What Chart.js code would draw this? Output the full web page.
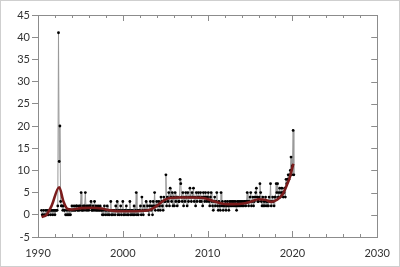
<!DOCTYPE html>
<html><head><meta charset="utf-8">
<script src="https://cdn.jsdelivr.net/npm/chart.js@4"></script>
<style>html,body{margin:0;padding:0;background:#fff}#wrap{width:400px;height:267px}</style>
</head><body><div id="wrap"><canvas id="c" width="400" height="267"></canvas></div>
<script>
// Monthly counts, first month = June 1990
const startYear = 1990;
const startMonth = 6;
const monthlyCounts = [
  /*1990*/ 1,0,0,1,0,0,1,
  /*1991*/ 0,1,0,0,1,1,0,1,1,0,1,1,
  /*1992*/ 0,1,1,1,2,41,12,20,3,2,2,1,
  /*1993*/ 2,1,1,0,0,1,0,0,1,0,0,1,
  /*1994*/ 2,1,1,2,1,1,2,2,1,1,2,1,
  /*1995*/ 2,5,1,1,2,1,2,5,1,2,1,2,
  /*1996*/ 1,2,2,3,1,1,2,1,3,1,2,1,
  /*1997*/ 1,2,1,1,2,1,1,0,1,0,2,1,
  /*1998*/ 0,1,2,0,1,0,1,3,0,1,0,1,
  /*1999*/ 1,0,2,1,3,0,1,0,1,2,0,1,
  /*2000*/ 3,0,1,0,1,2,0,1,0,1,3,0,
  /*2001*/ 1,0,1,0,2,0,1,5,0,1,0,1,
  /*2002*/ 1,2,0,4,1,0,2,1,1,3,1,2,
  /*2003*/ 1,0,2,3,1,2,0,3,2,5,1,2,
  /*2004*/ 3,2,1,3,2,1,4,3,2,1,4,3,
  /*2005*/ 3,9,2,4,3,5,2,6,4,3,5,2,
  /*2006*/ 4,2,5,3,4,2,4,3,3,8,7,4,
  /*2007*/ 3,5,2,4,3,5,4,2,5,3,4,6,
  /*2008*/ 4,3,5,4,6,3,4,2,5,3,4,5,
  /*2009*/ 4,3,5,3,4,2,5,4,3,5,4,3,
  /*2010*/ 4,5,3,2,4,5,3,2,1,3,4,2,
  /*2011*/ 3,5,2,1,3,2,1,5,2,3,1,2,
  /*2012*/ 2,3,1,2,3,2,1,3,2,3,2,3,
  /*2013*/ 2,3,2,3,2,1,3,2,3,2,3,2,
  /*2014*/ 3,2,3,2,3,3,2,3,5,3,2,3,
  /*2015*/ 4,5,2,3,4,2,3,4,5,6,4,3,
  /*2016*/ 3,4,7,5,3,2,4,2,3,2,4,3,
  /*2017*/ 2,3,2,4,3,7,2,3,4,3,2,4,
  /*2018*/ 4,7,5,7,4,5,6,4,5,6,5,4,
  /*2019*/ 5,6,4,8,7,8,9,8,9,10,13,9,
  /*2020*/ 11,19,9
];
// Smoothed trend
const trendYears  = [1990.42,1991.0,1991.6,1992.5,1993.0,1993.5,1994.0,1995.0,1996.5,1997.5,1998.5,2000.0,2001.5,2002.5,2003.3,2004.0,2004.8,2005.5,2006.5,2008.0,2009.5,2010.5,2011.5,2012.5,2014.0,2015.0,2016.0,2016.8,2017.5,2018.2,2018.8,2019.3,2019.7,2020.1];
const trendValues = [-0.5,0.0,2.0,6.2,3.0,1.3,1.2,1.5,1.6,1.4,1.0,0.8,0.8,0.9,1.2,2.0,3.2,3.8,3.9,3.9,3.8,3.2,2.6,2.4,2.5,2.9,3.5,3.4,2.9,3.4,4.5,6.5,8.5,11.5];
const xTicks = [1990,2000,2010,2020,2030];
const yTicks = [-5,0,5,10,15,20,25,30,35,40,45];

const countPoints = monthlyCounts.map((v,i)=>({x: startYear + (startMonth-1+i)/12, y: v}));
const trendPoints = trendYears.map((x,i)=>({x, y: trendValues[i]}));

const frame = {
  id:'frame',
  beforeDraw(chart){
    const c=chart.ctx; c.save(); c.fillStyle='#fff'; c.fillRect(0,0,chart.width,chart.height);
    c.strokeStyle='#cfcfcf'; c.lineWidth=1; c.strokeRect(0.5,0.5,chart.width-1,chart.height-1); c.restore();
  },
  afterDraw(chart){
    const c=chart.ctx, a=chart.chartArea, xs=chart.scales.x, ys=chart.scales.y;
    c.save(); c.strokeStyle='#8c8c8c'; c.lineWidth=1;
    c.strokeRect(Math.round(a.left)+0.5, Math.round(a.top)+0.5, Math.round(a.right-a.left), Math.round(a.bottom-a.top));
    c.beginPath();
    for(let yr=xTicks[0]; yr<=xTicks[xTicks.length-1]; yr+=2){
      const px=Math.round(xs.getPixelForValue(yr))+0.5;
      const major = xTicks.includes(yr);
      const len = major?6:3;
      c.moveTo(px,a.top); c.lineTo(px,a.top+len);
      c.moveTo(px,a.bottom); c.lineTo(px,a.bottom-len);
    }
    yTicks.forEach(v=>{
      const py=Math.round(ys.getPixelForValue(v))+0.5;
      c.moveTo(a.right,py); c.lineTo(a.right-6,py);
    });
    c.stroke(); c.restore();
  }
};

new Chart(document.getElementById('c'),{
  type:'line',
  data:{datasets:[
    {data:countPoints, borderColor:'#999999', borderWidth:1, pointRadius:1.4, pointBackgroundColor:'#000', pointBorderWidth:0, pointHoverRadius:0, order:2},
    {data:trendPoints, borderColor:'#7b1c1c', borderWidth:2.6, pointRadius:0, cubicInterpolationMode:'monotone', order:1}
  ]},
  options:{
    responsive:false, animation:false, events:[],
    layout:{padding:{left:0,right:21,top:15,bottom:0}},
    plugins:{legend:{display:false}, tooltip:{enabled:false}},
    scales:{
      x:{type:'linear', min:1990, max:2030,
        afterBuildTicks(s){ s.ticks = xTicks.map(v=>({value:v})); },
        afterFit(s){ s.height = 30; },
        border:{display:false},
        grid:{drawOnChartArea:false, drawTicks:false},
        ticks:{padding:10, color:'#333', font:{family:'Lato', size:11}, maxRotation:0, autoSkip:false, callback:v=>String(v)}
      },
      y:{min:-5, max:45,
        afterBuildTicks(s){ s.ticks = yTicks.map(v=>({value:v})); },
        afterFit(s){ s.width = 38; },
        border:{display:false},
        grid:{drawOnChartArea:false, drawTicks:true, tickLength:6, color:'#8c8c8c'},
        ticks:{padding:2, color:'#333', font:{family:'Lato', size:11}}
      }
    }
  },
  plugins:[frame]
});
</script></body></html>
